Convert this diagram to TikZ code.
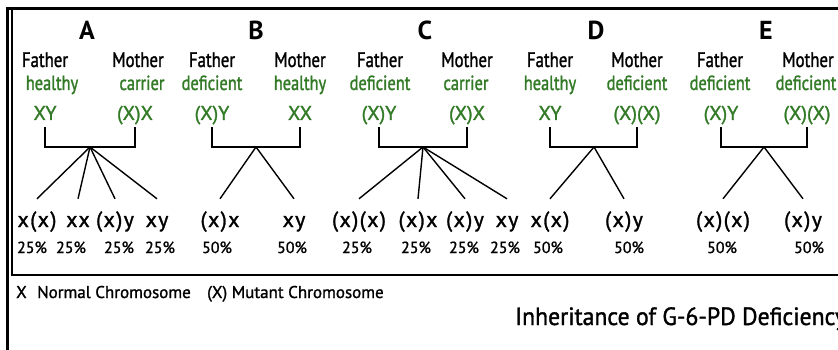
\documentclass[tikz,border=0pt]{standalone}
\usepackage{fontspec}
\setmainfont[FakeStretch=0.8,FakeBold=1.3]{PT Sans}
\newfontfamily\wfont[FakeBold=1.3]{PT Sans}
\newfontfamily\kfont[FakeBold=1.3,LetterSpace=6]{PT Sans}
\newfontfamily\tfont[FakeStretch=0.95,FakeBold=1.3]{PT Sans}
\newfontfamily\hfont{PT Sans Bold}
\definecolor{gr}{RGB}{50,122,38}
\begin{document}
\begin{tikzpicture}[x=1pt,y=-1pt,
  ttl/.style={font=\hfont\fontsize{26}{26}\selectfont, anchor=base, inner sep=0pt},
  par/.style={font=\fontsize{21}{21}\selectfont, anchor=base, inner sep=0pt},
  stat/.style={font=\fontsize{20.5}{20.5}\selectfont, text=gr, anchor=base, inner sep=0pt},
  geno/.style={font=\wfont\fontsize{20}{20}\selectfont, text=gr, anchor=base, inner xsep=0pt, inner ysep=0pt, text depth=7pt},
  kid/.style={font=\kfont\fontsize{22}{22}\selectfont, anchor=base, inner xsep=0pt, text height=16pt, inner ysep=12pt},
  pct/.style={font=\wfont\fontsize{16}{16}\selectfont, anchor=base, inner sep=0pt},
  leg/.style={font=\wfont\fontsize{17}{17}\selectfont, anchor=base west, inner sep=0pt},
  ln/.style={line width=1.4pt},
  frame/.style={line width=3pt},
  box/.style={line width=1.5pt}]
\useasboundingbox (0,0) rectangle (838,350);
% frame
\draw[box] (12,9) -- (12,275) -- (845,275);
\draw[frame] (7,350) -- (7,9) -- (845,9);
% family A
\node[ttl] (tA) at (87,40) {A};
\node[par] (fA) at (45,67) {Father};
\node[par] (mA) at (138,67) {Mother};
\node[stat] (sfA) at (52,90) {healthy};
\node[stat] (smA) at (142,90) {carrier};
\node[geno] (gfA) at (45,120) {XY};
\node[geno] (gmA) at (135,120) {(X)X};
\coordinate (bA) at (90,147);
\draw[ln] (gfA.south) -- (gfA.south |- bA) -- (gmA.south |- bA) -- (gmA.south);
\node[kid] (kA1) at (37,227) {x(x)};
\node[kid] (kA2) at (78,227) {xx};
\node[kid] (kA3) at (115,227) {(x)y};
\node[kid] (kA4) at (157,227) {xy};
\foreach \k in {1,...,4} \draw[ln] (bA) -- (kA\k.north);
\node[pct] (pA1) at (32,253) {25\%};
\node[pct] (pA2) at (71,253) {25\%};
\node[pct] (pA3) at (119,253) {25\%};
\node[pct] (pA4) at (160,253) {25\%};
% family B
\node[ttl] (tB) at (256,40) {B};
\node[par] (fB) at (212,67) {Father};
\node[par] (mB) at (300,67) {Mother};
\node[stat] (sfB) at (212,90) {deficient};
\node[stat] (smB) at (300,90) {healthy};
\node[geno] (gfB) at (212,120) {(X)Y};
\node[geno] (gmB) at (300,120) {XX};
\coordinate (bB) at (256,147);
\draw[ln] (gfB.south) -- (gfB.south |- bB) -- (gmB.south |- bB) -- (gmB.south);
\node[kid] (kB1) at (220,227) {(x)x};
\node[kid] (kB2) at (294,227) {xy};
\foreach \k in {1,2} \draw[ln] (bB) -- (kB\k.north);
\node[pct] (pB1) at (217,253) {50\%};
\node[pct] (pB2) at (292,253) {50\%};
% family C
\node[ttl] (tC) at (425,40) {C};
\node[par] (fC) at (380,67) {Father};
\node[par] (mC) at (467,67) {Mother};
\node[stat] (sfC) at (380,90) {deficient};
\node[stat] (smC) at (466,90) {carrier};
\node[geno] (gfC) at (379,120) {(X)Y};
\node[geno] (gmC) at (467,120) {(X)X};
\coordinate (bC) at (423,147);
\draw[ln] (gfC.south) -- (gfC.south |- bC) -- (gmC.south |- bC) -- (gmC.south);
\node[kid] (kC1) at (359,227) {(x)(x)};
\node[kid] (kC2) at (418,227) {(x)x};
\node[kid] (kC3) at (465,227) {(x)y};
\node[kid] (kC4) at (507,227) {xy};
\foreach \k in {1,...,4} \draw[ln] (bC) -- (kC\k.north);
\node[pct] (pC1) at (357,253) {25\%};
\node[pct] (pC2) at (416,253) {25\%};
\node[pct] (pC3) at (464,253) {25\%};
\node[pct] (pC4) at (505,253) {25\%};
% family D
\node[ttl] (tD) at (596,40) {D};
\node[par] (fD) at (550,67) {Father};
\node[par] (mD) at (637,67) {Mother};
\node[stat] (sfD) at (550,90) {healthy};
\node[stat] (smD) at (637,90) {deficient};
\node[geno] (gfD) at (550,120) {XY};
\node[geno] (gmD) at (637,120) {(X)(X)};
\coordinate (bD) at (594,147);
\draw[ln] (gfD.south) -- (gfD.south |- bD) -- (gmD.south |- bD) -- (gmD.south);
\node[kid] (kD1) at (550,227) {x(x)};
\node[kid] (kD2) at (624,227) {(x)y};
\foreach \k in {1,2} \draw[ln] (bD) -- (kD\k.north);
\node[pct] (pD1) at (548,253) {50\%};
\node[pct] (pD2) at (629,253) {50\%};
% family E
\node[ttl] (tE) at (766,40) {E};
\node[par] (fE) at (720,67) {Father};
\node[par] (mE) at (808,67) {Mother};
\node[stat] (sfE) at (720,90) {deficient};
\node[stat] (smE) at (806,90) {deficient};
\node[geno] (gfE) at (721,120) {(X)Y};
\node[geno] (gmE) at (807,120) {(X)(X)};
\coordinate (bE) at (764,147);
\draw[ln] (gfE.south) -- (gfE.south |- bE) -- (gmE.south |- bE) -- (gmE.south);
\node[kid] (kE1) at (723,227) {(x)(x)};
\node[kid] (kE2) at (803,227) {(x)y};
\foreach \k in {1,2} \draw[ln] (bE) -- (kE\k.north);
\node[pct] (pE1) at (722,253) {50\%};
\node[pct] (pE2) at (809,253) {50\%};
% legend and title
\node[leg] (legX) at (16,298) {X};
\node[leg] (legN) at (37,298) {Normal Chromosome};
\node[leg] (legM) at (207,298) {(X) Mutant Chromosome};
\node[font=\tfont\fontsize{25}{25}\selectfont, anchor=base west, inner sep=0pt] (title) at (515,325) {Inheritance of G-6-PD Deficiency};
\end{tikzpicture}
\end{document}
